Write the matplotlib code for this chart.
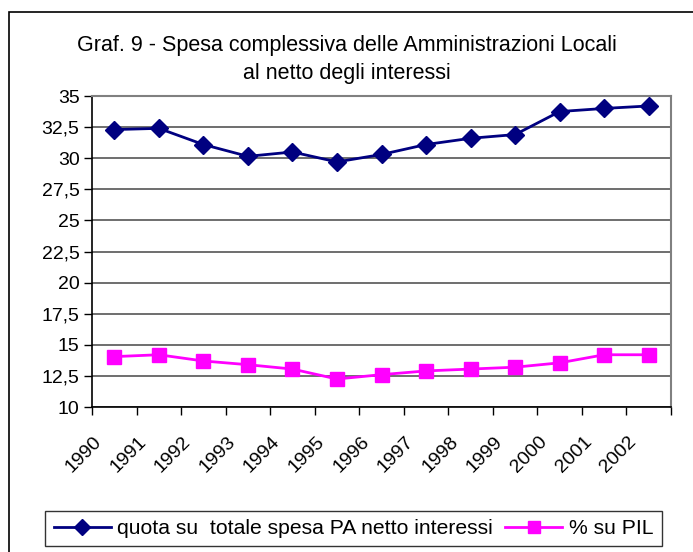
import matplotlib
matplotlib.use("Agg")
import matplotlib.pyplot as plt
from matplotlib.patches import Rectangle
from matplotlib.ticker import FixedLocator, NullFormatter
from matplotlib.transforms import ScaledTranslation

plt.rcParams['font.family'] = ['Liberation Sans', 'DejaVu Sans']

years = ["1990", "1991", "1992", "1993", "1994", "1995", "1996",
         "1997", "1998", "1999", "2000", "2001", "2002"]
quota = [32.3, 32.4, 31.1, 30.15, 30.5, 29.7, 30.3, 31.1, 31.6, 31.9, 33.75, 34.0, 34.2]
pil = [14.05, 14.2, 13.7, 13.4, 13.05, 12.25, 12.6, 12.9, 13.05, 13.2, 13.55, 14.2, 14.2]
y_ticks = [10, 12.5, 15, 17.5, 20, 22.5, 25, 27.5, 30, 32.5, 35]
y_labels = ["10", "12,5", "15", "17,5", "20", "22,5", "25", "27,5", "30", "32,5", "35"]
title = "Graf. 9 - Spesa complessiva delle Amministrazioni Locali\nal netto degli interessi"
lab_quota = "quota su  totale spesa PA netto interessi"
lab_pil = "% su PIL"

W, H = 693, 552
fig = plt.figure(figsize=(W / 100, H / 100), dpi=100)
fig.patch.set_facecolor("white")

# outer chart border
fig.patches.append(Rectangle((9 / W, -0.05), 1.2, 1.05 - 12 / H, transform=fig.transFigure,
                             fill=False, edgecolor="black", linewidth=1.2))

ax = fig.add_axes([92 / W, 1 - 407 / H, (671 - 92) / W, (407 - 96) / H])
x = list(range(len(years)))
ax.plot(x, quota, color="#000080", marker="D", markersize=9, linewidth=2,
        label=lab_quota, zorder=3)
ax.plot(x, pil, color="#FF00FF", marker="s", markersize=10, linewidth=2,
        label=lab_pil, zorder=3)

ax.set_xlim(-0.5, len(years) - 0.5)
ax.set_ylim(10, 35)
ax.set_yticks(y_ticks)
ax.set_yticklabels(y_labels, fontsize=14)
ax.yaxis.grid(True, color="#555555", linewidth=1.2)
ax.set_axisbelow(True)

ax.xaxis.set_major_locator(FixedLocator([i - 0.5 for i in range(len(years) + 1)]))
ax.xaxis.set_major_formatter(NullFormatter())
ax.xaxis.set_minor_locator(FixedLocator(x))
ax.set_xticklabels(years, minor=True, rotation=45, ha="right", va="top",
                   rotation_mode="anchor", fontsize=14)
ax.tick_params(axis="x", which="minor", length=0, pad=14)
ax.tick_params(axis="x", which="major", length=6, width=1, color="black", direction="out")
ax.tick_params(axis="y", length=6, width=1, color="black", direction="out", pad=3)
shift = ScaledTranslation(-0.21, -0.07, fig.dpi_scale_trans)
for lbl in ax.get_xticklabels(minor=True):
    lbl.set_transform(lbl.get_transform() + shift)

for s in ["top", "right"]:
    ax.spines[s].set_color("#808080")
    ax.spines[s].set_linewidth(1.5)
for s in ["left", "bottom"]:
    ax.spines[s].set_color("black")
    ax.spines[s].set_linewidth(1.2)

fig.text(0.5, 1 - 59.5 / H, title, ha="center", va="center", fontsize=15.5,
         linespacing=1.38)

h, l = ax.get_legend_handles_labels()
leg = fig.legend(h, l, loc="center", bbox_to_anchor=((42 + 665) / 2 / W, 1 - 528.5 / H),
                 ncol=2, fontsize=15.2, frameon=True, fancybox=False,
                 edgecolor="black", handlelength=2.7, columnspacing=0.6,
                 handletextpad=0.3, borderpad=0.4, markerscale=0.9)
leg.get_frame().set_linewidth(1.0)

fig.savefig("out.png", dpi=100, facecolor="white")
